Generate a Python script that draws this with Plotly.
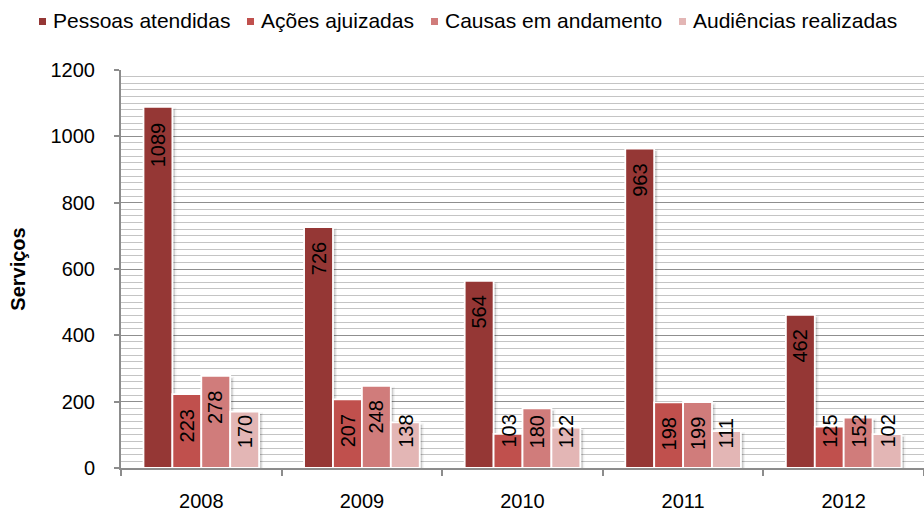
import plotly.graph_objects as go

# Serviços prestados por ano
anos = ["2008", "2009", "2010", "2011", "2012"]
pessoas_atendidas = [1089, 726, 564, 963, 462]
acoes_ajuizadas = [223, 207, 103, 198, 125]
causas_andamento = [278, 248, 180, 199, 152]
audiencias_realizadas = [170, 138, 122, 111, 102]

series_nomes = ["Pessoas atendidas", "Ações ajuizadas", "Causas em andamento", "Audiências realizadas"]
series_valores = [pessoas_atendidas, acoes_ajuizadas, causas_andamento, audiencias_realizadas]
cores = ["#953735", "#C0504D", "#D07C7B", "#E3B6B5"]

y_ticks = [0, 200, 400, 600, 800, 1000, 1200]

FONT = "Liberation Sans, Arial, Helvetica, sans-serif"
W, H = 924, 513
M_L, M_R, M_T, M_B = 121, 0, 70, 45
BARGAP = 0.28
Y_MAX = 1200
SHADOW_PX = 2.5

# legend row: left edge (px) of each entry's text, key size and row centre
LEGEND_TEXT_X = [52, 260, 444, 692]
LEGEND_KEY = 7
LEGEND_KEY_GAP = 6
LEGEND_Y = 21

plot_w = W - M_L - M_R
plot_h = H - M_T - M_B
cat_w = plot_w / len(anos)
slot = cat_w * (1 - BARGAP) / len(series_nomes)
px_per_unit = plot_h / Y_MAX
dx = SHADOW_PX / cat_w
dy = SHADOW_PX / px_per_unit


def paper_x(px):
    return (px - M_L) / plot_w


def paper_y(py):
    return (H - M_B - py) / plot_h


fig = go.Figure()

# soft drop shadows (base axes, drawn underneath)
for nome, vals in zip(series_nomes, series_valores):
    fig.add_trace(go.Bar(
        name=nome, x=anos, y=vals, xaxis="x", yaxis="y",
        marker=dict(color="rgba(0,0,0,0.15)", line=dict(color="rgba(0,0,0,0.05)", width=3)),
        showlegend=False, hoverinfo="skip",
    ))

# bars (overlaid axes, with ticks and gridlines)
for nome, vals, cor in zip(series_nomes, series_valores, cores):
    fig.add_trace(go.Bar(
        name=nome, x=anos, y=vals, xaxis="x2", yaxis="y2",
        marker=dict(color=cor, line=dict(color="white", width=1.8)),
        showlegend=False, hoverinfo="x+y+name",
    ))

# value labels, rotated, near the top of each bar
annotations = []
for j, vals in enumerate(series_valores):
    for i, v in enumerate(vals):
        txt = str(v)
        txt_len = len(txt) * 0.556 * 20
        bar_px = v * px_per_unit
        if bar_px >= txt_len + 30:
            pos = dict(y=v, yanchor="top", yshift=-13)
        else:
            pos = dict(y=0, yanchor="bottom", yshift=18)
        annotations.append(dict(
            x=i, xref="x2", yref="y2", text=txt, showarrow=False,
            textangle=-90, xanchor="center",
            xshift=(j - (len(series_nomes) - 1) / 2) * slot,
            font=dict(family=FONT, size=20, color="black"),
            **pos,
        ))

# legend row above the plot
shapes = []
for nome, cor, tx in zip(series_nomes, cores, LEGEND_TEXT_X):
    kx1 = tx - LEGEND_KEY_GAP
    kx0 = kx1 - LEGEND_KEY
    shapes.append(dict(
        type="rect", xref="paper", yref="paper",
        x0=paper_x(kx0), x1=paper_x(kx1),
        y0=paper_y(LEGEND_Y + LEGEND_KEY / 2 + 0.5), y1=paper_y(LEGEND_Y - LEGEND_KEY / 2 + 0.5),
        fillcolor=cor, line=dict(width=0),
    ))
    annotations.append(dict(
        x=paper_x(tx), y=paper_y(LEGEND_Y), xref="paper", yref="paper",
        text=nome, showarrow=False, xanchor="left", yanchor="middle",
        borderpad=0, font=dict(family=FONT, size=21, color="black"),
    ))

fig.update_layout(
    width=W, height=H,
    margin=dict(l=M_L, r=M_R, t=M_T, b=M_B, autoexpand=False),
    paper_bgcolor="white", plot_bgcolor="white",
    barmode="group", bargap=BARGAP, bargroupgap=0.0,
    font=dict(family=FONT, size=20, color="black"),
    showlegend=False,
    annotations=annotations,
    shapes=shapes,
    xaxis=dict(
        type="category", range=[-0.5 - dx, len(anos) - 0.5 - dx], visible=False,
    ),
    yaxis=dict(
        range=[dy, Y_MAX + dy], visible=False,
    ),
    xaxis2=dict(
        type="category", overlaying="x", range=[-0.5, len(anos) - 0.5], showgrid=False,
        showline=True, linecolor="#8c8c8c", linewidth=2,
        ticks="outside", tickson="boundaries", ticklen=6, tickcolor="#8c8c8c", tickwidth=1.5,
        tickfont=dict(family=FONT, size=20, color="black"),
        ticklabelstandoff=14,
    ),
    yaxis2=dict(
        overlaying="y", side="left",
        range=[0, Y_MAX], tickvals=y_ticks, ticktext=[str(t) for t in y_ticks],
        showline=True, linecolor="#8c8c8c", linewidth=2,
        ticks="outside", ticklen=5, tickcolor="#8c8c8c", tickwidth=1.5,
        tickfont=dict(family=FONT, size=20, color="black"),
        ticklabelstandoff=15,
        showgrid=True, gridcolor="#8f8f8f", gridwidth=1,
        minor=dict(dtick=20, showgrid=True, gridcolor="#c4c4c4", gridwidth=1, ticks=""),
        zeroline=False,
        title=dict(text="<b>Serviços</b>", font=dict(family=FONT, size=20, color="black"), standoff=20),
    ),
)

fig.write_html("out.html")
